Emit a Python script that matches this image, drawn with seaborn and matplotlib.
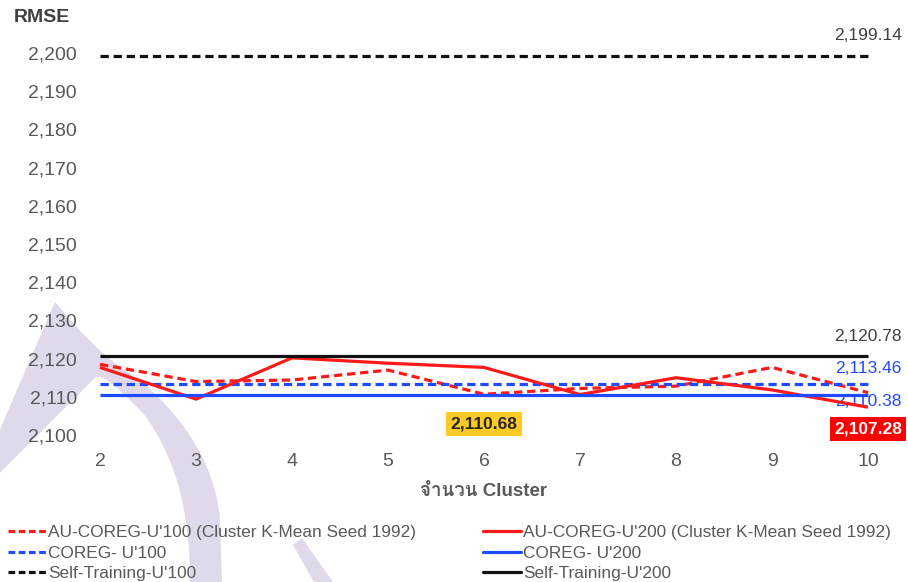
import numpy as np
import pandas as pd
import matplotlib
matplotlib.use("Agg")
import matplotlib.pyplot as plt
import seaborn as sns
from matplotlib import font_manager
from matplotlib.ft2font import FT2Font
from matplotlib.lines import Line2D
from matplotlib.path import Path
from matplotlib.patches import PathPatch, Polygon

# ---- data -------------------------------------------------------------
clusters = [2, 3, 4, 5, 6, 7, 8, 9, 10]
au_coreg_u100 = [2118.5, 2114.0, 2114.4, 2117.0, 2110.68, 2112.2, 2112.8, 2117.7, 2111.1]
au_coreg_u200 = [2117.7, 2109.4, 2120.2, 2118.8, 2117.7, 2110.6, 2115.0, 2111.8, 2107.28]
coreg_u100 = 2113.46
coreg_u200 = 2110.38
self_training_u100 = 2199.14
self_training_u200 = 2120.78

series_names = [
    "AU-COREG-U'100 (Cluster K-Mean Seed 1992)",
    "COREG- U'100",
    "Self-Training-U'100",
    "AU-COREG-U'200 (Cluster K-Mean Seed 1992)",
    "COREG- U'200",
    "Self-Training-U'200",
]
series_values = [
    au_coreg_u100,
    [coreg_u100] * len(clusters),
    [self_training_u100] * len(clusters),
    au_coreg_u200,
    [coreg_u200] * len(clusters),
    [self_training_u200] * len(clusters),
]
y_ticks = list(range(2100, 2201, 10))

RED = "#ff1a1a"
BLUE = "#1f4bff"
BLACK = "#111111"
colors = [RED, BLUE, BLACK, RED, BLUE, BLACK]
DASH = (2.6, 1.5)
dash_styles = [DASH, DASH, DASH, "", "", ""]

df = pd.DataFrame(
    [(name, x, v) for name, vals in zip(series_names, series_values)
     for x, v in zip(clusters, vals)],
    columns=["series", "cluster", "rmse"],
)

# ---- fonts ------------------------------------------------------------
sns.set_theme(style="white")


def find_thai_font():
    for f in font_manager.fontManager.ttflist:
        try:
            if 0x0E08 in FT2Font(f.fname).get_charmap():
                return f.name
        except Exception:
            continue
    return None


thai = find_thai_font()
families = ["Liberation Sans"] + ([thai] if thai else []) + ["DejaVu Sans"]
plt.rcParams["font.family"] = families

TICK_GREY = "#595959"
LABEL_GREY = "#404040"

# ---- figure -----------------------------------------------------------
W, H = 908, 582
fig = plt.figure(figsize=(W / 100, H / 100), dpi=100)
fig.patch.set_facecolor("white")


def fx(px):
    return px / W


def fy(py):
    return 1 - py / H


# faint lavender emblem behind the plot
wm_color = "#e0d9eb"
verts = [
    (0, 430), (7, 413), (55, 302),
    (75, 325), (100, 357), (140, 380),
    (180, 415), (215, 460), (220, 520),
    (222, 582),
    (190, 582),
    (190, 520), (180, 463), (143, 413),
    (110, 380), (100, 372), (93, 380),
    (0, 473), (0, 430),
]
codes = [Path.MOVETO, Path.LINETO, Path.LINETO,
         Path.CURVE4, Path.CURVE4, Path.CURVE4,
         Path.CURVE4, Path.CURVE4, Path.CURVE4,
         Path.LINETO,
         Path.LINETO,
         Path.CURVE4, Path.CURVE4, Path.CURVE4,
         Path.CURVE4, Path.CURVE4, Path.CURVE4,
         Path.LINETO, Path.CLOSEPOLY]
wm_path = Path([(fx(a), fy(b)) for a, b in verts], codes)
fig.patches.append(PathPatch(wm_path, facecolor=wm_color, edgecolor="none",
                             transform=fig.transFigure, zorder=-1))
fig.patches.append(Polygon([(fx(a), fy(b)) for a, b in
                            [(293, 545), (302, 538), (333, 582), (314, 582)]],
                           closed=True, facecolor=wm_color, edgecolor="none",
                           transform=fig.transFigure, zorder=-1))

y_lo, y_hi = 2097, 2203
ax = fig.add_axes([fx(100), fy(446.5), fx(868) - fx(100), fy(41.5) - fy(446.5)])
ax.patch.set_alpha(0)

sns.lineplot(
    data=df, x="cluster", y="rmse", hue="series", style="series",
    hue_order=series_names, style_order=series_names,
    palette=dict(zip(series_names, colors)),
    dashes=dict(zip(series_names, dash_styles)),
    linewidth=2.3, legend=False, ax=ax, estimator=None, sort=False,
)
for ln in ax.get_lines():
    ln.set_clip_on(False)
    ln.set_solid_capstyle("butt")
    ln.set_dash_capstyle("butt")

ax.set_xlim(clusters[0], clusters[-1])
ax.set_ylim(y_lo, y_hi)
ax.set_xticks(clusters)
ax.set_yticks(y_ticks)
ax.set_yticklabels([f"{t:,}" for t in y_ticks])
ax.tick_params(axis="both", length=0, labelsize=14, labelcolor=TICK_GREY)
ax.tick_params(axis="y", pad=16.5)
ax.tick_params(axis="x", pad=5)
for s in ax.spines.values():
    s.set_visible(False)
ax.grid(False)

ax.set_xlabel("จำนวน Cluster", fontsize=13.5, fontweight="bold", color=TICK_GREY)
ax.xaxis.set_label_coords(0.5, (fy(492) - fy(446.5)) / (fy(41.5) - fy(446.5)))
ax.xaxis.label.set_va("center")
ax.set_ylabel("")
fig.text(fx(14), fy(18), "RMSE", fontsize=14, fontweight="bold",
         color=LABEL_GREY, ha="left", va="center")

# ---- value labels ----------------------------------------------------
x_end = clusters[-1]


def value_label(x, v, dy_px, color, box=None, weight="normal"):
    kw = dict(ha="center", va="center", fontsize=12.5, color=color,
              fontweight=weight, annotation_clip=False, zorder=1)
    if box is not None:
        kw["bbox"] = dict(boxstyle="square,pad=0.25", facecolor=box,
                          edgecolor="none")
        kw["zorder"] = 5
    ax.annotate(f"{v:,.2f}", xy=(x, v), xytext=(0, dy_px * 0.72),
                textcoords="offset points", **kw)


value_label(x_end, self_training_u100, 21, LABEL_GREY)
value_label(x_end, self_training_u200, 19, LABEL_GREY)
value_label(x_end, coreg_u100, 15, BLUE)
value_label(x_end, coreg_u200, -6.5, BLUE)
value_label(x_end, au_coreg_u200[-1], -22, "white", box="#ff0000", weight="bold")
value_label(clusters[4], au_coreg_u100[4], -30, "#262626", box="#ffc926", weight="bold")

# ---- legend -----------------------------------------------------------
handles = [
    Line2D([0], [0], color=c, lw=2.3,
           linestyle=(0, (2.1, 1.1)) if d else "-", dash_capstyle="butt")
    for c, d in zip(colors, dash_styles)
]
leg = fig.legend(
    handles, series_names, ncol=2, loc="upper left",
    bbox_to_anchor=(fx(8), fy(525)), frameon=False,
    fontsize=12.4, handlelength=2.2, handletextpad=0.15,
    columnspacing=3.85, labelspacing=0.32, borderpad=0, borderaxespad=0,
)
for t in leg.get_texts():
    t.set_color(TICK_GREY)

fig.savefig("out.png", dpi=100, facecolor="white")
